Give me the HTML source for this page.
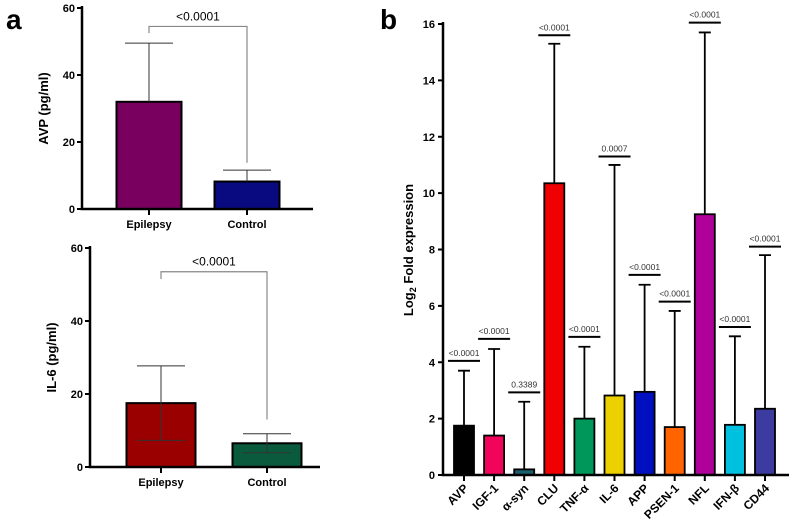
<!DOCTYPE html>
<html><head><meta charset="utf-8"><style>
body{margin:0;background:#fff;width:789px;height:523px;overflow:hidden}
svg{display:block;font-family:"Liberation Sans",sans-serif}
</style></head><body>
<svg id="s" width="789" height="523" viewBox="0 0 789 523">
<text x="6" y="29" font-size="28" font-weight="bold">a</text>
<text x="380" y="29" font-size="28" font-weight="bold">b</text>
</svg>
<script>
const NS='http://www.w3.org/2000/svg';
const svg=document.getElementById('s');
function mk(t,a,p){const e=document.createElementNS(NS,t);for(const k in a)e.setAttribute(k,a[k]);(p||svg).appendChild(e);return e;}

// Panel a data
const aGroups=['Epilepsy','Control'];
const avpMeans=[32,8.2];
const avpErr=[17.5,3.4];
const il6Means=[17.5,6.5];
const il6Err=[10.2,2.6];
const aTicks=[0,20,40,60];
const aP='<0.0001';

function panelA(cfg){
  const y=v=>cfg.y0-(v/60)*(cfg.y0-cfg.y60);
  const g=mk('g',{});
  
  
  cfg.means.forEach((m,i)=>{
    const cx=cfg.cx[i];
    const bar=mk('rect',{x:cx-cfg.bw/2,y:y(m),width:cfg.bw,height:cfg.y0-y(m),fill:cfg.colors[i],stroke:'#000','stroke-width':2},g);
    
    
    const top=m+cfg.err[i], lo=cfg.both?m-cfg.err[i]:m;
    const eb=mk('path',{d:`M${cx},${y(lo)}V${y(top)}M${cx-24},${y(top)}H${cx+24}`+(cfg.both?`M${cx-24},${y(lo)}H${cx+24}`:''),stroke:'#333','stroke-width':1,fill:'none'},g);
    
    
    mk('line',{x1:cx,x2:cx,y1:cfg.y0,y2:cfg.y0+6,stroke:'#000','stroke-width':2},g);
    const t=mk('text',{x:cx,y:cfg.y0+19,'font-size':11,'font-weight':'bold','text-anchor':'middle'},g);
    t.textContent=aGroups[i];
    
    
  });
  mk('path',{d:`M${cfg.ax},${cfg.y60-2}V${cfg.y0}H${cfg.xend}`,stroke:'#000','stroke-width':2.5,fill:'none'},g);
  aTicks.forEach(v=>{
    mk('line',{x1:cfg.ax-5,x2:cfg.ax,y1:y(v),y2:y(v),stroke:'#000','stroke-width':2},g);
    const t=mk('text',{x:cfg.ax-7,y:y(v)+4,'font-size':11,'font-weight':'bold','text-anchor':'end'},g);
    t.textContent=v;
    
    
  });
  const yl=mk('text',{transform:`translate(${cfg.ax-34},${(cfg.y0+cfg.y60)/2}) rotate(-90)`,'font-size':13,'font-weight':'bold','text-anchor':'middle'},g);
  yl.textContent=cfg.ylabel;
  
  
  const br=mk('path',{d:`M${cfg.cx[0]},${y(cfg.brL)}V${y(cfg.brY)}H${cfg.cx[1]}V${y(cfg.brR)}`,stroke:'#888','stroke-width':1.2,fill:'none'},g);
  
  
  const pt=mk('text',{x:(cfg.cx[0]+cfg.cx[1])/2,y:y(cfg.brY)-6,'font-size':12,'text-anchor':'middle'},g);
  pt.textContent=aP;
  
  
}
panelA({name:'avp-chart',y0:209,y60:8,ax:82,xend:313,cx:[149,247],bw:65,means:avpMeans,err:avpErr,colors:['#7a0060','#0a0a80'],both:false,ylabel:'AVP (pg/ml)',brY:54.5,brL:52.5,brR:13.8});
panelA({name:'il6-chart',y0:467,y60:248,ax:90,xend:320,cx:[161,267],bw:69,means:il6Means,err:il6Err,colors:['#9a0000','#0a5a3e'],both:true,ylabel:'IL-6 (pg/ml)',brY:53.5,brL:51.5,brR:13});

// Panel b data
const bGenes=['AVP','IGF-1','α-syn','CLU','TNF-α','IL-6','APP','PSEN-1','NFL','IFN-β','CD44'];
const bMeans=[1.75,1.4,0.2,10.35,2.0,2.82,2.95,1.7,9.25,1.78,2.35];
const bErr=[3.7,4.47,2.6,15.3,4.55,11.0,6.75,5.82,15.7,4.92,7.8];
const bSigY=[4.05,4.83,2.93,15.6,4.9,11.3,7.1,6.15,16.05,5.25,8.1];
const bP=['<0.0001','<0.0001','0.3389','<0.0001','<0.0001','0.0007','<0.0001','<0.0001','<0.0001','<0.0001','<0.0001'];
const bTicks=[0,2,4,6,8,10,12,14,16];
const bColors=['#000000','#f0055a','#1a5f6e','#f00000','#00985a','#ecd000','#0010c0','#ff6400','#b0009a','#00c0e0','#3c3ca0'];

(function(){
  const ax=443,y0=475,y16=24,x0=464,dx=30.1;
  const y=v=>y0-v/16*(y0-y16);
  const x=i=>x0+i*dx;
  const g=mk('g',{});
  
  
  bGenes.forEach((n,i)=>{
    const cx=x(i);
    const eb=mk('path',{d:`M${cx},${y(bMeans[i])}V${y(bErr[i])}M${cx-6},${y(bErr[i])}H${cx+6}`,stroke:'#000','stroke-width':1.8,fill:'none'},g);
    
    
    const bar=mk('rect',{x:cx-10,y:y(bMeans[i]),width:20,height:y0-y(bMeans[i]),fill:bColors[i],stroke:'#000','stroke-width':1.8},g);
    
    
    const sl=mk('line',{x1:cx-16,x2:cx+16,y1:y(bSigY[i]),y2:y(bSigY[i]),stroke:'#000','stroke-width':2},g);
    
    
    const pt=mk('text',{x:cx,y:y(bSigY[i])-5,'font-size':8.5,'text-anchor':'middle',fill:'#333'},g);
    pt.textContent=bP[i];
    
    
    mk('line',{x1:cx,x2:cx,y1:y0,y2:y0+6,stroke:'#000','stroke-width':2},g);
    const t=mk('text',{transform:`translate(${cx+5},${y0+14}) rotate(-45)`,'font-size':12,'font-weight':'bold','text-anchor':'end'},g);
    t.textContent=n;
    
    
  });
  mk('path',{d:`M${ax},${y16-2}V${y0}H789`,stroke:'#000','stroke-width':2.5,fill:'none'},g);
  bTicks.forEach(v=>{
    mk('line',{x1:ax-5,x2:ax,y1:y(v),y2:y(v),stroke:'#000','stroke-width':2},g);
    const t=mk('text',{x:ax-8,y:y(v)+4,'font-size':11,'font-weight':'bold','text-anchor':'end'},g);
    t.textContent=v;
    
    
  });
  const yl=mk('text',{transform:`translate(413,250) rotate(-90)`,'font-size':13,'font-weight':'bold','text-anchor':'middle'},g);
  yl.innerHTML='Log<tspan font-size="9" dy="3">2</tspan><tspan dy="-3"> Fold expression</tspan>';
  
  
})();
</script>
</body></html>
